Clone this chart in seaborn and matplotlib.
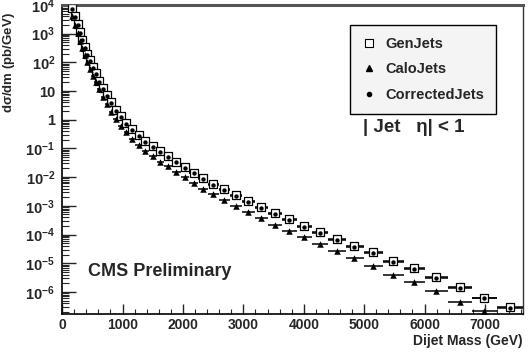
import numpy as np
import pandas as pd
import matplotlib
matplotlib.use("Agg")
import matplotlib.pyplot as plt
import seaborn as sns
from matplotlib.ticker import LogLocator, MultipleLocator, FuncFormatter, NullFormatter
from matplotlib.lines import Line2D

# bin centres (GeV)
mass = [170, 220, 260, 298, 335, 375, 416, 460, 508, 558, 612, 672, 738, 810, 888,
        972, 1062, 1160, 1265, 1380, 1500, 1625, 1755, 1890, 2035, 2180, 2335, 2500,
        2680, 2875, 3080, 3295, 3525, 3760, 4005, 4265, 4545, 4840, 5150, 5480, 5825,
        6195, 6590, 6990, 7415]

gen_jets = [7.9e3, 4.0e3, 2.1e3, 1.1e3, 6.2e2, 3.5e2, 2.0e2, 1.2e2, 69, 41, 23, 13, 7.2,
            4.0, 2.2, 1.3, 0.78, 0.47, 0.29, 0.18, 0.12, 7.9e-2, 5.4e-2, 3.5e-2, 2.3e-2,
            1.45e-2, 9.3e-3, 5.9e-3, 3.8e-3, 2.4e-3, 1.5e-3, 9.1e-4, 5.6e-4, 3.5e-4,
            2.0e-4, 1.23e-4, 7.1e-5, 4.1e-5, 2.4e-5, 1.23e-5, 6.9e-6, 3.2e-6, 1.5e-6,
            6.3e-7, 3.0e-7]

calo_jets = [4.0e3, 2.0e3, 1.05e3, 5.5e2, 3.1e2, 1.75e2, 1.0e2, 60, 34, 20, 11.5, 6.4, 3.5,
             1.9, 1.05, 0.62, 0.37, 0.22, 0.135, 0.083, 0.054, 3.5e-2, 2.4e-2, 1.55e-2,
             1.0e-2, 6.3e-3, 4.0e-3, 2.5e-3, 1.6e-3, 1.0e-3, 6.2e-4, 3.7e-4, 2.2e-4,
             1.35e-4, 8.5e-5, 4.8e-5, 2.7e-5, 1.5e-5, 8.2e-6, 4.0e-6, 2.2e-6, 1.05e-6,
             4.6e-7, 2.1e-7, 9e-8]

corrected_jets = [7.3e3, 3.7e3, 1.95e3, 1.02e3, 5.8e2, 3.25e2, 1.86e2, 1.1e2, 64, 38, 21.5,
                  12, 6.7, 3.7, 2.05, 1.2, 0.72, 0.44, 0.27, 0.167, 0.11, 7.3e-2, 5.0e-2,
                  3.25e-2, 2.15e-2, 1.35e-2, 8.6e-3, 5.5e-3, 3.5e-3, 2.2e-3, 1.4e-3, 8.5e-4,
                  5.2e-4, 3.25e-4, 1.86e-4, 1.14e-4, 6.6e-5, 3.8e-5, 2.2e-5, 1.14e-5,
                  6.4e-6, 3.0e-6, 1.4e-6, 5.9e-7, 2.8e-7]

df = pd.DataFrame({"mass": mass, "GenJets": gen_jets, "CaloJets": calo_jets,
                   "CorrectedJets": corrected_jets})

# bin edges half way between neighbouring centres
m = np.array(mass, dtype=float)
mid = (m[1:] + m[:-1]) / 2
edges = np.concatenate([[m[0] - (m[1] - m[0]) / 2], mid, [m[-1] + (m[-1] - m[-2]) / 2]])
xerr = [m - edges[:-1], edges[1:] - m]

sns.set_style("ticks")
plt.rcParams["font.family"] = ["Liberation Sans", "DejaVu Sans"]
plt.rcParams["font.weight"] = "bold"
plt.rcParams["mathtext.fontset"] = "custom"
plt.rcParams["mathtext.rm"] = "Liberation Sans:bold"
plt.rcParams["mathtext.it"] = "Liberation Sans:bold"
plt.rcParams["mathtext.bf"] = "Liberation Sans:bold"

fig, ax = plt.subplots(figsize=(5.31, 3.54), dpi=100)
fig.subplots_adjust(left=0.117, right=0.985, bottom=0.113, top=0.986)

for col in ["GenJets", "CaloJets", "CorrectedJets"]:
    ax.errorbar(df["mass"], df[col], xerr=xerr, fmt="none", ecolor="black",
                elinewidth=1.1, capsize=0, zorder=2)

sns.scatterplot(x="mass", y="GenJets", data=df, marker="s", s=40, color="white",
                edgecolor="black", linewidth=0.9, ax=ax, zorder=3, legend=False)
sns.scatterplot(x="mass", y="CaloJets", data=df, marker="^", s=22, color="black",
                edgecolor="black", linewidth=0, ax=ax, zorder=4, legend=False)
sns.scatterplot(x="mass", y="CorrectedJets", data=df, marker="o", s=10, color="black",
                edgecolor="black", linewidth=0, ax=ax, zorder=5, legend=False)

ax.set_yscale("log")
ax.set_xlim(0, 7630)
ax.set_ylim(1.7e-7, 1e4)


def log_label(v, _):
    e = int(round(np.log10(v)))
    if e == 0:
        return "1"
    if e == 1:
        return "10"
    return r"$10^{%d}$" % e


ax.yaxis.set_major_locator(LogLocator(base=10, numticks=20))
ax.yaxis.set_minor_locator(LogLocator(base=10, subs=np.arange(2, 10), numticks=20))
ax.yaxis.set_major_formatter(FuncFormatter(log_label))
ax.yaxis.set_minor_formatter(NullFormatter())
ax.xaxis.set_major_locator(MultipleLocator(1000))
ax.xaxis.set_minor_locator(MultipleLocator(200))

ax.tick_params(axis="y", which="major", direction="in", length=10, width=1,
               labelsize=10.5, pad=5)
ax.tick_params(axis="y", which="minor", direction="in", length=5, width=0.8)
ax.tick_params(axis="x", which="major", direction="in", length=7, width=1,
               labelsize=10, pad=3)
ax.tick_params(axis="x", which="minor", direction="in", length=3.5, width=0.8)

for s in ["left", "bottom"]:
    ax.spines[s].set_linewidth(1.2)
    ax.spines[s].set_color("black")
ax.spines["top"].set_linewidth(2.2)
ax.spines["top"].set_color("#555555")
ax.spines["right"].set_linewidth(1.0)
ax.spines["right"].set_color("#333333")

ax.set_xlabel("Dijet Mass (GeV)", fontsize=10, fontweight="bold", loc="right", labelpad=1)
ax.set_ylabel(r"d$\sigma$/dm (pb/GeV)", fontsize=9.5, fontweight="bold")
ax.yaxis.set_label_coords(-0.097, 0.815)

handles = [
    Line2D([], [], marker="s", ls="none", mfc="white", mec="black", mew=0.8, ms=5.5),
    Line2D([], [], marker="^", ls="none", mfc="black", mec="black", ms=4.5),
    Line2D([], [], marker="o", ls="none", mfc="black", mec="black", ms=3),
]
leg = ax.legend(handles, ["GenJets", "CaloJets", "CorrectedJets"], loc="upper left",
                bbox_to_anchor=(0.625, 0.935), fontsize=10.5, frameon=True,
                fancybox=False, framealpha=1, facecolor="#f4f4f4", edgecolor="black",
                borderpad=0.8, labelspacing=0.8, handletextpad=0.6, handlelength=1.0,
                borderaxespad=0)
leg.get_frame().set_linewidth(1.0)

ax.text(0.056, 0.136, "CMS Preliminary", transform=ax.transAxes, fontsize=13,
        fontweight="bold", va="center", ha="left")
ax.text(0.653, 0.602, "| Jet   \u03b7| < 1", transform=ax.transAxes, fontsize=13.5,
        fontweight="bold", va="center", ha="left")

fig.savefig("out.png", dpi=100)
